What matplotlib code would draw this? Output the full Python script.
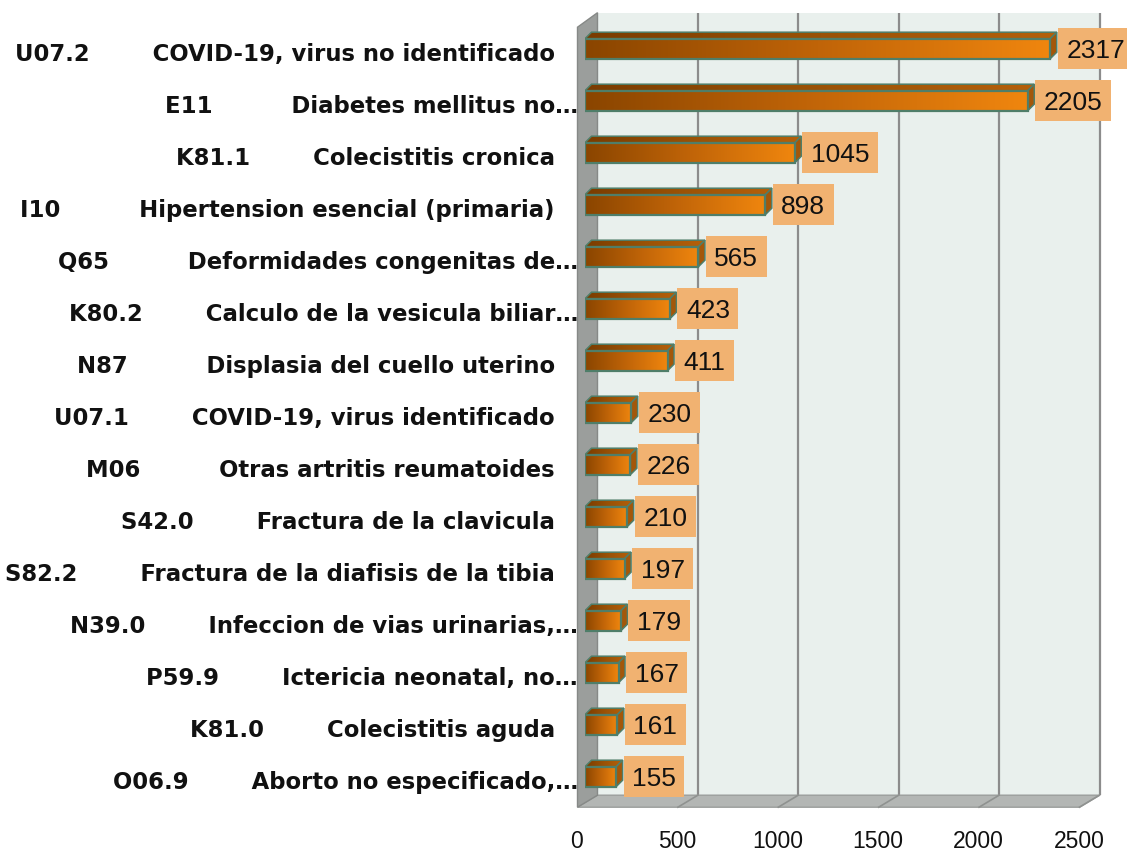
import matplotlib
matplotlib.use("Agg")
import matplotlib.pyplot as plt
import numpy as np
from matplotlib.patches import Polygon, Rectangle
from matplotlib.colors import LinearSegmentedColormap

# ---------------- data ----------------
codes = ["U07.2", "E11", "K81.1", "I10", "Q65", "K80.2", "N87", "U07.1",
         "M06", "S42.0", "S82.2", "N39.0", "P59.9", "K81.0", "O06.9"]
descriptions = ["COVID-19, virus no identificado",
                "Diabetes mellitus no\u2026",
                "Colecistitis cronica",
                "Hipertension esencial (primaria)",
                "Deformidades congenitas de\u2026",
                "Calculo de la vesicula biliar\u2026",
                "Displasia del cuello uterino",
                "COVID-19, virus identificado",
                "Otras artritis reumatoides",
                "Fractura de la clavicula",
                "Fractura de la diafisis de la tibia",
                "Infeccion de vias urinarias,\u2026",
                "Ictericia neonatal, no\u2026",
                "Colecistitis aguda",
                "Aborto no especificado,\u2026"]
values = [2317, 2205, 1045, 898, 565, 423, 411, 230, 226, 210, 197, 179, 167, 161, 155]
x_ticks = [0, 500, 1000, 1500, 2000, 2500]

# ---------------- layout ----------------
W, H = 1127, 852
fig = plt.figure(figsize=(W / 100, H / 100), dpi=100)
AX_L, AX_R = 585, 1087
AX_T, AX_B = 22.7, 802.7
ax = fig.add_axes([AX_L / W, 1 - AX_B / H, (AX_R - AX_L) / W, (AX_B - AX_T) / H])
XMAX = x_ticks[-1]
n = len(values)
PXX = (AX_R - AX_L) / XMAX
PXY = (AX_B - AX_T) / n


def P(xv, yv, dx=0.0, dy=0.0):
    """data point shifted by pixel offsets (dy positive = down)"""
    return (xv + dx / PXX, yv + dy / PXY)


BACK = (12.5, -7.5)
FRONT = (-7.5, 4.5)
TOP_EXTRA = -2.5
ytop, ybot = -0.5, n - 0.5

GRID_C = "#8c8c8c"
WALL_C = "#e9f0ed"
FLOOR_C = "#b3b6b4"
LWALL_C = "#9b9e9c"
EDGE_C = "#4f7e69"

# back wall
ax.add_patch(Polygon([P(0, ytop, BACK[0], BACK[1] + TOP_EXTRA),
                      P(XMAX, ytop, BACK[0], BACK[1] + TOP_EXTRA),
                      P(XMAX, ybot, *BACK), P(0, ybot, *BACK)],
                     closed=True, facecolor=WALL_C, edgecolor="none", zorder=1, clip_on=False))
# floor
ax.add_patch(Polygon([P(0, ybot, *FRONT), P(XMAX, ybot, *FRONT),
                      P(XMAX, ybot, *BACK), P(0, ybot, *BACK)],
                     closed=True, facecolor=FLOOR_C, edgecolor="#9a9d9b", lw=1.0, zorder=3, clip_on=False))
# grid lines on wall + floor
for v in x_ticks[1:]:
    p1 = P(v, ytop, BACK[0], BACK[1] + TOP_EXTRA)
    p2 = P(v, ybot, *BACK)
    p3 = P(v, ybot, *FRONT)
    ax.plot([p1[0], p2[0]], [p1[1], p2[1]], color=GRID_C, lw=1.6, zorder=2, clip_on=False,
            solid_capstyle="butt")
    ax.plot([p2[0], p3[0]], [p2[1], p3[1]], color="#8f9290", lw=1.2, zorder=3.5, clip_on=False)
# left wall
ax.add_patch(Polygon([P(0, ytop, *FRONT), P(0, ytop, BACK[0], BACK[1] + TOP_EXTRA),
                      P(0, ybot, *BACK), P(0, ybot, *FRONT)],
                     closed=True, facecolor=LWALL_C, edgecolor="#868987", lw=1.0, zorder=4, clip_on=False))

# ---------------- bars ----------------
front_cmap = LinearSegmentedColormap.from_list("front", ["#8a4500", "#c06408", "#f0860e"])
top_cmap = LinearSegmentedColormap.from_list("top", ["#7a3c00", "#9a5206", "#b5600a"])
grad = np.linspace(0, 1, 256).reshape(1, -1)
hh = 10 / PXY
DX, DY = 6.5, -6.5

for i, v in enumerate(values):
    # top face
    top_pts = [(0, i - hh), (v, i - hh), P(v, i - hh, DX, DY), P(0, i - hh, DX, DY)]
    top_poly = Polygon(top_pts, closed=True, facecolor="none", edgecolor=EDGE_C, lw=1.1, zorder=6)
    ax.add_patch(top_poly)
    im = ax.imshow(grad, cmap=top_cmap, extent=[0, P(v, 0, DX)[0], i - hh, P(0, i - hh, 0, DY)[1]],
                   aspect="auto", zorder=5.5, interpolation="bilinear")
    im.set_clip_path(top_poly)
    # side face
    side_pts = [(v, i - hh), P(v, i - hh, DX, DY), P(v, i + hh, DX, DY), (v, i + hh)]
    ax.add_patch(Polygon(side_pts, closed=True, facecolor="#a3570a", edgecolor=EDGE_C, lw=1.1, zorder=6))
    # front face
    ax.imshow(grad, cmap=front_cmap, extent=[0, v, i + hh, i - hh], aspect="auto",
              zorder=6.5, interpolation="bilinear")
    ax.add_patch(Rectangle((0, i - hh), v, 2 * hh, fill=False, edgecolor=EDGE_C, lw=1.6, zorder=7))

ax.set_xlim(0, XMAX)
ax.set_ylim(ybot, ytop)
ax.axis("off")

# ---------------- value labels ----------------
VAL_FS = 19
cap_val = 0.716 * VAL_FS * 100 / 72
val_texts = []
for i, v in enumerate(values):
    t = ax.text(*P(v, i, 16.0, cap_val / 2), f"{v}", ha="left", va="baseline",
                fontsize=VAL_FS, family="Liberation Sans", color="#111111", zorder=9, clip_on=False)
    val_texts.append(t)

fig.canvas.draw()
renderer = fig.canvas.get_renderer()
for i, (v, t) in enumerate(zip(values, val_texts)):
    tw = t.get_window_extent(renderer).width
    x0 = P(v, 0, 7.5)[0]
    ax.add_patch(Rectangle((x0, i - 20.5 / PXY), (tw + 17) / PXX, 41 / PXY,
                           facecolor="#f1b271", edgecolor="none", zorder=8, clip_on=False))

# ---------------- category labels ----------------
CAT_FS = 16.4
cap_cat = 0.729 * CAT_FS * 100 / 72
for i, (c, d) in enumerate(zip(codes, descriptions)):
    gap = " " * (8 + (5 - len(c)))
    label = c + gap + d
    right = -7.0 if d.endswith("\u2026") else -30.0
    ax.text(*P(0, i, right, cap_cat / 2 + 4), label, ha="right", va="baseline",
            fontsize=CAT_FS, fontweight="bold", family="DejaVu Sans", color="#111111",
            zorder=3.8, clip_on=False)

# ---------------- x tick labels ----------------
for v in x_ticks:
    ax.text(*P(v, ybot, -8, 45.5), f"{v}", ha="center", va="baseline",
            fontsize=16.5, family="Liberation Sans", color="#111111", clip_on=False)

fig.savefig("out.png", dpi=100)
